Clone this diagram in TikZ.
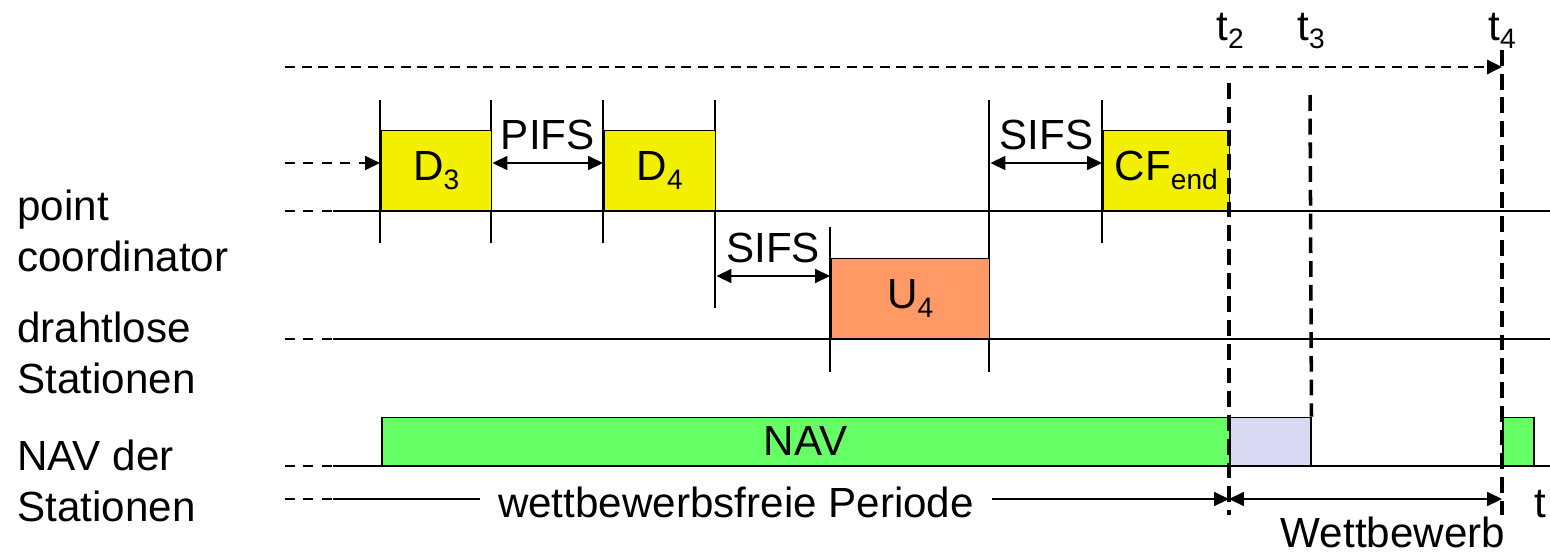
\documentclass[tikz,border=0pt]{standalone}
\usepackage{fontspec}
\setmainfont{Liberation Sans}
\usetikzlibrary{arrows.meta}
\definecolor{pcyellow}{RGB}{243,239,0}
\definecolor{uporange}{RGB}{255,153,102}
\definecolor{navgreen}{RGB}{102,255,102}
\definecolor{freeblue}{RGB}{217,217,243}
\newcommand{\lowidx}[1]{\raisebox{-5pt}{\fontsize{16}{16}\selectfont #1}}

\begin{document}
\begin{tikzpicture}[x=0.02cm,y=-0.02cm,
  every node/.style={font=\fontsize{24}{29}\selectfont,inner sep=0pt},
  frame/.style={draw,line width=.85pt,anchor=south west,minimum height=1.6cm},
  tick/.style={line width=.85pt},
  lead/.style={line width=.85pt,dash pattern=on 5.5pt off 5pt},
  tline/.style={line width=2pt,dash pattern=on 9pt off 4.5pt},
  span/.style={line width=.85pt,{Triangle[length=8.5pt,width=8pt]}-{Triangle[length=8.5pt,width=8pt]}},
  tip/.style={line width=.85pt,-{Triangle[length=8.5pt,width=8pt]}}]
\useasboundingbox (0,0) rectangle (1550,555);
% row labels
\node[anchor=base west,align=left] (pclab) at (17,271) {point\\coordinator};
\node[anchor=base west,align=left] (stlab) at (17,393) {drahtlose\\Stationen};
\node[anchor=base west,align=left] (navlab) at (17,521) {NAV der\\Stationen};
% time lines
\foreach \y in {211,339,466} {
  \draw[lead] (285,\y) -- (333,\y);
  \draw[tick] (333,\y) -- (1550,\y);
}
\foreach \x/\a/\b in {380/100/243,491/100/243,603/100/243,715/100/308,830/227/372,989/100/372,1102/100/243}
  \draw[tick] (\x,\a) -- (\x,\b);
% frames
\node[frame,fill=pcyellow,minimum width=2.22cm] (d3) at (380,211) {D\lowidx{3}};
\node[frame,fill=pcyellow,minimum width=2.24cm] (d4) at (603,211) {D\lowidx{4}};
\node[frame,fill=pcyellow,minimum width=2.54cm] (cfend) at (1102,211) {CF\lowidx{end}};
\node[frame,fill=uporange,minimum width=3.18cm] (u4) at (830,339) {U\lowidx{4}};
\node[frame,fill=navgreen,minimum width=16.96cm,minimum height=.96cm] (nav) at (381,466) {NAV};
\node[frame,fill=freeblue,minimum width=1.62cm,minimum height=.96cm] (free) at (1229,466) {};
\node[frame,fill=navgreen,minimum width=.62cm,minimum height=.96cm] (nav2) at (1502,466) {};
% gaps
\coordinate (in0) at (285,163);
\draw[lead,-{Triangle[length=8.5pt,width=8pt]}] (in0) -- (d3.west |- in0);
\draw[span] (d3.east |- in0) -- node[above=7pt] (pifs) {PIFS} (d4.west |- in0);
\draw[span] (d4.east |- 0,276) -- node[above=7pt] (sifsa) {SIFS} (u4.west |- 0,276);
\draw[span] (u4.east |- in0) -- node[above=7pt] (sifsb) {SIFS} (cfend.west |- in0);
% time marks
\node[anchor=base] (t2lab) at (1230,40) {t\lowidx{2}};
\node[anchor=base] (t3lab) at (1311,40) {t\lowidx{3}};
\node[anchor=base] (t4lab) at (1502,40) {t\lowidx{4}};
\coordinate (top0) at (285,67);
\coordinate (top1) at (1502,67);
\draw[line width=1.7pt,dash pattern=on 5.7pt off 3.7pt,-{Triangle[length=8.5pt,width=8pt]}] (top0) -- (top1);
\coordinate (b0) at (285,499);
\coordinate (b1) at (333,499);
\coordinate (t2) at (1229,499);
\coordinate (t4) at (1502,499);
\draw[tline] (1229,83) -- (1229,515);
\draw[tline] (1310,95) -- (free.north east);
\draw[tline] (1502,50) -- (1502,515);
% periods
\node[anchor=base,inner xsep=10pt] (wfp) at (736,517) {wettbewerbsfreie Periode};
\draw[lead] (b0) -- (b1);
\draw[tick] (b1) -- (wfp.west |- b1);
\draw[tip] (wfp.east |- b1) -- (t2);
\draw[span] (t2) -- (t4);
\node[anchor=base] (wb) at (1393,547) {Wettbewerb};
\node[anchor=base] (tax) at (1540,517) {t};
\end{tikzpicture}
\end{document}
